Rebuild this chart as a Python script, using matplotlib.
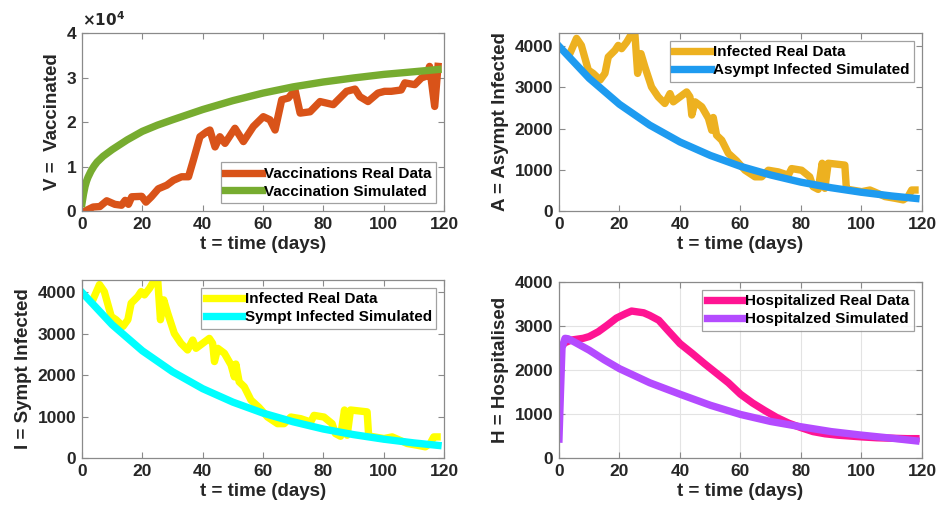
import matplotlib
matplotlib.use("Agg")
import matplotlib.pyplot as plt
from matplotlib.ticker import FuncFormatter

plt.rcParams['font.family'] = ['Liberation Sans', 'DejaVu Sans']
plt.rcParams['font.weight'] = 'bold'

# ---- Vaccinated ----
vac_real_t = [1, 3.7, 5.9, 8.2, 10.9, 13.1, 14.3, 15.4, 16.5, 19.8, 21.2, 23, 25.3, 28.1, 30.3, 33, 35.3,
              36.9, 39.1, 41.3, 42.4, 44.1, 45.7, 47.4, 50.7, 53.5, 56.8, 60.1, 62.3, 64, 66.2, 68.4, 70.6,
              72.3, 75.6, 78.9, 83.3, 87.7, 90.5, 92.1, 94.8, 98.1, 100.3, 102.5, 105.8, 107, 110.3, 112.5,
              114.1, 115.2, 116.9, 118]
vac_real_v = [0, 900, 1000, 2300, 1500, 1300, 2400, 1500, 3200, 3300, 2000, 3200, 5000, 5800, 6900, 7700, 7700,
              11400, 16700, 17800, 18200, 14400, 16700, 15200, 18600, 15600, 19000, 21200, 20500, 18200, 25000,
              25400, 27200, 22000, 22300, 24600, 23900, 26900, 27400, 25700, 24600, 26500, 26900, 26900, 27200,
              28800, 28400, 29900, 30300, 32500, 23500, 32500]
vac_sim_t = [0, 0.5, 1, 1.5, 2, 3, 4, 5, 7, 10, 15, 20, 25, 30, 40, 50, 60, 70, 80, 90, 100, 110, 118]
vac_sim_v = [1700, 3800, 5500, 6700, 7600, 9000, 10100, 11000, 12300, 13800, 16000, 17900, 19300, 20500, 22800,
             24800, 26500, 27900, 29000, 29900, 30700, 31300, 31800]

# ---- Infected (real, used in A and I panels) ----
inf_real_t = [3.6, 5.8, 7.4, 9.7, 11.3, 13.6, 15.2, 16.3, 18.5, 19.6, 20.7, 22.4, 24, 25.1, 26, 27.1, 28.4,
              30.6, 32.8, 35, 36.7, 37.8, 40, 42.2, 43.3, 43.9, 45, 47.2, 49.4, 50.5, 51, 52.1, 53.8, 56,
              58.7, 61.5, 64.8, 67, 69.2, 72.5, 75.8, 76.9, 80.2, 82.9, 84, 85.7, 87, 87.9, 89, 94.5, 95,
              95.6, 100.1, 102.8, 104.4, 107.8, 111, 113.8, 115.4, 116.6, 117.7]
inf_real_v = [3820, 4190, 4020, 3420, 3340, 3180, 3340, 3740, 3900, 4020, 3940, 4100, 4300, 4300, 3340, 3820,
              3500, 3010, 2770, 2610, 2850, 2650, 2770, 2890, 2770, 2330, 2650, 2530, 2250, 1960, 2270, 1840,
              1720, 1400, 1220, 990, 830, 830, 990, 950, 870, 1030, 990, 830, 590, 525, 1160, 550, 1160, 1115,
              550, 525, 470, 510, 460, 350, 310, 270, 350, 510, 510]

# ---- Simulated asympt / sympt infected ----
asym_sim_t = [0, 10, 20, 30, 40, 50, 60, 70, 80, 90, 100, 110, 118]
asym_sim_v = [4000, 3220, 2590, 2085, 1675, 1350, 1085, 875, 700, 565, 455, 365, 305]
sym_sim_t = [0, 10, 20, 30, 40, 50, 60, 70, 80, 90, 100, 110, 118]
sym_sim_v = [4000, 3220, 2590, 2085, 1675, 1350, 1085, 875, 700, 565, 455, 365, 305]

# ---- Hospitalised ----
hosp_real_t = [1, 2, 4, 6, 8, 10, 13, 16, 19, 22, 24, 26, 28, 30, 33, 36, 40, 44, 48, 52, 56, 60, 64, 68,
               72, 76, 80, 84, 88, 92, 96, 100, 105, 110, 115, 118]
hosp_real_v = [2560, 2620, 2680, 2700, 2720, 2760, 2870, 3020, 3180, 3280, 3340, 3320, 3300, 3240, 3130, 2900,
               2600, 2380, 2150, 1930, 1710, 1450, 1250, 1080, 920, 790, 690, 600, 550, 520, 500, 480, 460,
               450, 440, 440]
hosp_sim_t = [0, 0.5, 1, 2, 3, 5, 10, 15, 20, 30, 40, 50, 60, 70, 80, 90, 100, 110, 118]
hosp_sim_v = [430, 1500, 2500, 2720, 2710, 2640, 2450, 2230, 2030, 1710, 1450, 1200, 990, 830, 710, 600,
              520, 450, 390]

xticks = [0, 20, 40, 60, 80, 100, 120]
TXT = '#262626'
EDGE = '#8a8a8a'
LW = 5.3

fig = plt.figure(figsize=(9.36, 5.08), dpi=100)
axTL = fig.add_axes([0.0876, 0.5846, 0.3868, 0.3504])
axTR = fig.add_axes([0.5972, 0.5846, 0.3878, 0.3504])
axBL = fig.add_axes([0.0876, 0.0984, 0.3868, 0.3504])
axBR = fig.add_axes([0.5972, 0.0984, 0.3878, 0.3465])


def style(ax, ylabel, grid=False):
    ax.set_xlim(0, 120)
    ax.set_xticks(xticks)
    for s in ax.spines.values():
        s.set_color(EDGE)
        s.set_linewidth(0.9)
    ax.tick_params(direction='in', top=True, right=True, length=4, width=0.8, color=EDGE,
                   labelsize=12.5, labelcolor=TXT, pad=4)
    for lab in ax.get_xticklabels() + ax.get_yticklabels():
        lab.set_fontweight('bold')
    ax.set_xlabel('t = time (days)', fontsize=13.5, fontweight='bold', color=TXT, labelpad=3)
    ax.set_ylabel(ylabel, fontsize=13.5, fontweight='bold', color=TXT, labelpad=4)
    if grid:
        ax.grid(True, color='#e3e3e3', linewidth=0.8)
        ax.set_axisbelow(True)


def legend(ax, loc):
    lg = ax.legend(loc=loc, handlelength=2.4, handletextpad=0.15, borderpad=0.3,
                   labelspacing=0.25, borderaxespad=0.5, frameon=True, fancybox=False,
                   prop={'weight': 'bold', 'size': 11})
    lg.get_frame().set_edgecolor(EDGE)
    lg.get_frame().set_linewidth(0.9)
    for t in lg.get_texts():
        t.set_color('black')


# Top-left
axTL.plot(vac_real_t, vac_real_v, color='#D95319', lw=LW, label='Vaccinations Real Data', solid_joinstyle='round')
axTL.plot(vac_sim_t, vac_sim_v, color='#77AC30', lw=LW, label='Vaccination Simulated')
axTL.set_ylim(0, 40000)
axTL.set_yticks([0, 10000, 20000, 30000, 40000])
axTL.yaxis.set_major_formatter(FuncFormatter(lambda v, p: f'{v/1e4:g}'))
style(axTL, 'V =  Vaccinated')
axTL.text(0.0, 1.025, r'$\times10^4$', transform=axTL.transAxes, fontsize=11, color=TXT,
          fontweight='normal', ha='left', va='bottom')
legend(axTL, 'lower right')

# Top-right
axTR.plot(inf_real_t, inf_real_v, color='#EDB120', lw=LW, label='Infected Real Data', solid_joinstyle='round')
axTR.plot(asym_sim_t, asym_sim_v, color='#1E9BF0', lw=LW, label='Asympt Infected Simulated')
axTR.set_ylim(0, 4320)
axTR.set_yticks([0, 1000, 2000, 3000, 4000])
style(axTR, 'A = Asympt Infected')
legend(axTR, 'upper right')

# Bottom-left
axBL.plot(inf_real_t, inf_real_v, color='#FFFF00', lw=LW, label='Infected Real Data', solid_joinstyle='round')
axBL.plot(sym_sim_t, sym_sim_v, color='#00FFFF', lw=LW, label='Sympt Infected Simulated')
axBL.set_ylim(0, 4300)
axBL.set_yticks([0, 1000, 2000, 3000, 4000])
style(axBL, 'I = Sympt Infected')
legend(axBL, 'upper right')

# Bottom-right
axBR.plot(hosp_real_t, hosp_real_v, color='#FF1493', lw=LW, label='Hospitalized Real Data', solid_joinstyle='round')
axBR.plot(hosp_sim_t, hosp_sim_v, color='#B44BFF', lw=LW, label='Hospitalzed Simulated', solid_joinstyle='round')
axBR.set_ylim(0, 4000)
axBR.set_yticks([0, 1000, 2000, 3000, 4000])
style(axBR, 'H = Hospitalised', grid=True)
legend(axBR, 'upper right')

fig.savefig('out.png', dpi=100)
